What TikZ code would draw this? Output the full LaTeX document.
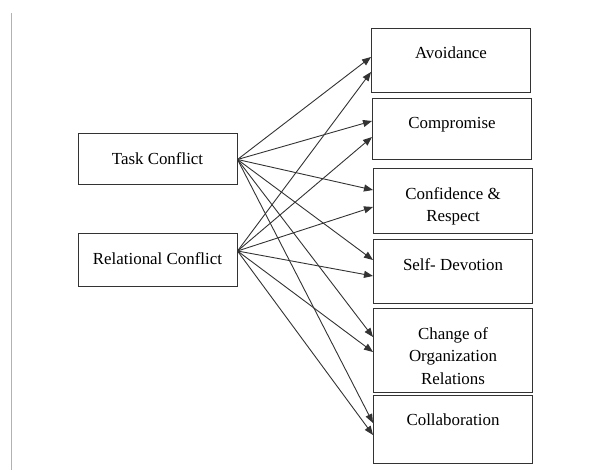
\documentclass[tikz,border=0pt]{standalone}
\usepackage{fontspec}
\setmainfont{Liberation Serif}
\usetikzlibrary{arrows.meta}

\tikzset{
  srcbox/.style={draw=black!80, line width=1pt, minimum width=159pt, minimum height=#1, inner sep=0pt},
  outbox/.style={draw=black!80, line width=1pt, anchor=north west, minimum width=159pt, minimum height=#1, inner sep=0pt},
  boxtext/.style={anchor=north, align=center, inner sep=0pt, yshift=-19pt},
  link/.style={draw=black!80, line width=0.9pt, -{Triangle[length=9pt,width=7pt]}}
}

\begin{document}
\begin{tikzpicture}[x=1pt, y=-1pt, font=\fontsize{16.9}{22.5}\selectfont]
\useasboundingbox (0,0) rectangle (602,470);

\draw[gray!60, line width=0.8pt] (11.3,13) -- (11.3,470);

\node[srcbox=51pt] at (157.5,159.5) (task) {\raisebox{2pt}{Task Conflict}};
\node[srcbox=52pt] at (157.5,260) (relational) {\raisebox{2pt}{Relational Conflict}};

\node[outbox=64pt, label={[boxtext]north:Avoidance}] at (371,28) (avoid) {};
\node[outbox=61pt, label={[boxtext]north:Compromise}] at (372,98) (compromise) {};
\node[outbox=65pt, label={[boxtext]north:Confidence \&\\Respect}] at (373,168) (confidence) {};
\node[outbox=64pt, label={[boxtext]north:Self- Devotion}] at (373,239) (devotion) {};
\node[outbox=84pt, label={[boxtext]north:Change of\\Organization\\Relations}] at (373,308) (change) {};
\node[outbox=68pt, label={[boxtext]north:Collaboration}] at (373,395) (collab) {};

% every conflict type points at every outcome
\foreach \dst/\a/\b in {avoid/29/44, compromise/23/39, confidence/22/39, devotion/21/37, change/29/44, collab/28/40}{
  \draw[link] (task.east) -- ([yshift=-\a pt]\dst.north west);
  \draw[link] ([yshift=9pt]relational.east) -- ([yshift=-\b pt]\dst.north west);
}
\end{tikzpicture}
\end{document}
